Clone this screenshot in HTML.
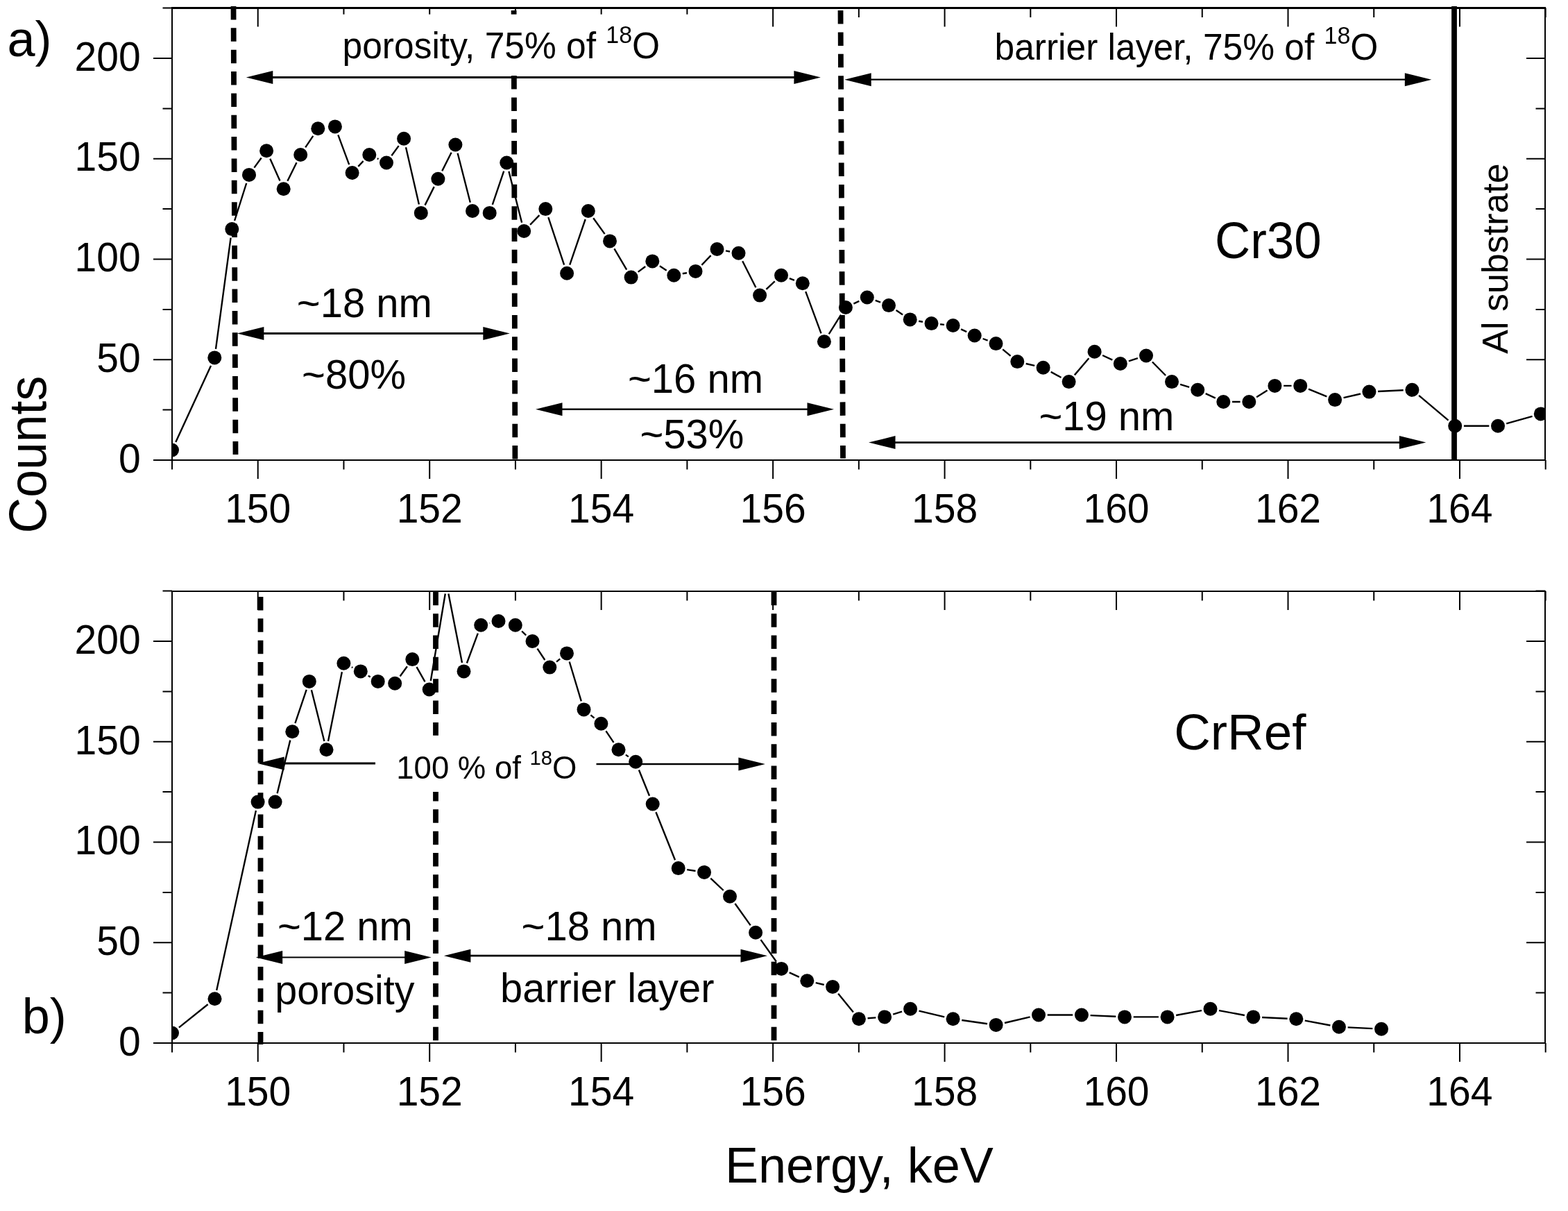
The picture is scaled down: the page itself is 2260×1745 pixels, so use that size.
<!DOCTYPE html><html><head><meta charset="utf-8"><style>html,body{margin:0;padding:0;background:#fff}svg{display:block}</style></head><body><svg width="2260" height="1745" viewBox="0 0 2260 1745">
<defs><clipPath id="ca"><rect x="248" y="11.5" width="1979" height="651.5"/></clipPath><clipPath id="cb"><rect x="248" y="852" width="1979" height="651"/></clipPath></defs>
<rect width="2260" height="1745" fill="#fff"/>
<g clip-path="url(#ca)">
<path d="M253.3 637.0L304.0 526.9M311.0 502.8L332.6 342.7M338.1 318.0L355.2 264.0M366.4 241.6L376.7 227.5M389.3 228.8L403.5 260.6M414.4 260.8L427.5 234.3M440.2 212.4L451.3 195.9M487.3 194.3L503.2 237.1M516.3 239.8L523.6 232.2M543.8 228.4L545.5 229.1M564.4 224.2L574.7 210.1M585.0 212.2L603.9 294.5M612.5 295.6L625.7 269.1M637.2 246.4L650.6 219.8M659.6 220.8L677.8 291.7M709.8 294.9L726.2 246.6M733.4 246.9L752.1 320.7M764.1 323.9L777.4 310.2M790.3 313.2L813.1 381.7M821.2 381.7L843.7 316.0M855.2 314.3L871.6 337.1M885.4 358.4L903.2 388.6M919.7 391.9L930.2 384.0M950.9 383.3L960.7 389.7M983.8 394.3L990.0 393.2M1011.4 381.8L1024.6 368.1M1046.0 361.4L1052.0 362.5M1070.2 376.2L1089.4 414.3M1104.4 416.9L1116.7 405.3M1137.9 401.1L1144.9 403.8M1161.2 420.1L1183.5 480.3M1194.7 481.4L1212.1 453.7M1230.4 437.6L1238.3 433.9M1261.7 432.9L1269.1 435.7M1291.6 447.1L1301.1 453.4M1324.2 462.7L1330.0 463.8M1355.1 467.3L1361.0 467.9M1385.1 474.4L1393.2 478.2M1416.6 488.0L1423.6 490.6M1445.2 503.3L1456.6 512.9M1478.7 524.0L1491.2 526.9M1514.7 535.9L1529.5 544.0M1548.8 540.4L1569.4 516.3M1589.1 512.0L1603.3 518.7M1626.9 520.3L1639.9 516.2M1660.9 521.5L1680.1 541.0M1701.1 553.9L1714.1 557.9M1737.7 567.1L1751.8 573.7M1776.0 579.0L1787.6 579.0M1811.1 572.3L1826.6 562.6M1850.1 555.9L1861.5 555.9M1886.0 560.7L1912.3 571.4M1936.5 573.2L1961.0 567.5M1986.1 564.0L2022.7 562.3M2045.1 569.9L2087.5 605.6M2109.9 613.8L2146.3 613.8M2171.2 610.3L2208.6 599.9" stroke="#000" stroke-width="2.4" fill="none"/>
<g fill="#000"><circle cx="248.0" cy="648.5" r="10.0"/><circle cx="309.3" cy="515.4" r="10.0"/><circle cx="334.3" cy="330.1" r="10.0"/><circle cx="359.0" cy="251.9" r="10.0"/><circle cx="384.1" cy="217.2" r="10.0"/><circle cx="408.7" cy="272.2" r="10.0"/><circle cx="433.2" cy="223.0" r="10.0"/><circle cx="458.3" cy="185.3" r="10.0"/><circle cx="482.9" cy="182.4" r="10.0"/><circle cx="507.6" cy="249.0" r="10.0"/><circle cx="532.3" cy="223.0" r="10.0"/><circle cx="557.0" cy="234.5" r="10.0"/><circle cx="582.1" cy="199.8" r="10.0"/><circle cx="606.8" cy="306.9" r="10.0"/><circle cx="631.4" cy="257.7" r="10.0"/><circle cx="656.4" cy="208.5" r="10.0"/><circle cx="681.0" cy="304.0" r="10.0"/><circle cx="705.7" cy="306.9" r="10.0"/><circle cx="730.3" cy="234.5" r="10.0"/><circle cx="755.2" cy="333.0" r="10.0"/><circle cx="786.3" cy="301.1" r="10.0"/><circle cx="817.1" cy="393.8" r="10.0"/><circle cx="847.8" cy="304.0" r="10.0"/><circle cx="879.0" cy="347.4" r="10.0"/><circle cx="909.6" cy="399.6" r="10.0"/><circle cx="940.3" cy="376.4" r="10.0"/><circle cx="971.3" cy="396.7" r="10.0"/><circle cx="1002.5" cy="390.9" r="10.0"/><circle cx="1033.5" cy="359.0" r="10.0"/><circle cx="1064.5" cy="364.8" r="10.0"/><circle cx="1095.1" cy="425.6" r="10.0"/><circle cx="1126.0" cy="396.7" r="10.0"/><circle cx="1156.8" cy="408.2" r="10.0"/><circle cx="1187.9" cy="492.2" r="10.0"/><circle cx="1218.9" cy="443.0" r="10.0"/><circle cx="1249.8" cy="428.5" r="10.0"/><circle cx="1281.0" cy="440.1" r="10.0"/><circle cx="1311.7" cy="460.4" r="10.0"/><circle cx="1342.5" cy="466.1" r="10.0"/><circle cx="1373.6" cy="469.0" r="10.0"/><circle cx="1404.7" cy="483.5" r="10.0"/><circle cx="1435.5" cy="495.1" r="10.0"/><circle cx="1466.3" cy="521.1" r="10.0"/><circle cx="1503.6" cy="529.8" r="10.0"/><circle cx="1540.6" cy="550.1" r="10.0"/><circle cx="1577.6" cy="506.7" r="10.0"/><circle cx="1614.8" cy="524.0" r="10.0"/><circle cx="1652.0" cy="512.5" r="10.0"/><circle cx="1689.0" cy="550.1" r="10.0"/><circle cx="1726.2" cy="561.7" r="10.0"/><circle cx="1763.3" cy="579.0" r="10.0"/><circle cx="1800.3" cy="579.0" r="10.0"/><circle cx="1837.4" cy="555.9" r="10.0"/><circle cx="1874.2" cy="555.9" r="10.0"/><circle cx="1924.1" cy="576.1" r="10.0"/><circle cx="1973.4" cy="564.6" r="10.0"/><circle cx="2035.4" cy="561.7" r="10.0"/><circle cx="2097.2" cy="613.8" r="10.0"/><circle cx="2159.0" cy="613.8" r="10.0"/><circle cx="2220.8" cy="596.4" r="10.0"/></g>
</g>
<line x1="336.5" y1="9" x2="339.5" y2="655" stroke="#000" stroke-width="7.8" stroke-dasharray="19.5 11.85" stroke-dashoffset="0"/>
<line x1="740.6" y1="15" x2="742.4" y2="661.4" stroke="#000" stroke-width="7.8" stroke-dasharray="19.5 11.85" stroke-dashoffset="0"/>
<line x1="1211.5" y1="15.1" x2="1215" y2="660.6" stroke="#000" stroke-width="7.8" stroke-dasharray="19.5 11.85" stroke-dashoffset="0"/>
<line x1="2096" y1="9" x2="2096" y2="663" stroke="#000" stroke-width="7.8"/>
<g stroke="#000" fill="none"><line x1="248.0" y1="11.5" x2="248.0" y2="664.0" stroke-width="2"/><line x1="2227.0" y1="11.5" x2="2227.0" y2="664.0" stroke-width="2"/><line x1="247.0" y1="11.5" x2="2228.0" y2="11.5" stroke-width="3"/><line x1="247.0" y1="663.0" x2="2228.0" y2="663.0" stroke-width="2"/><path d="M221.0 663.00H248.0M2200.0 663.00H2227.0M234.5 590.62H248.0M2213.5 590.62H2227.0M221.0 518.25H248.0M2200.0 518.25H2227.0M234.5 445.88H248.0M2213.5 445.88H2227.0M221.0 373.50H248.0M2200.0 373.50H2227.0M234.5 301.12H248.0M2213.5 301.12H2227.0M221.0 228.75H248.0M2200.0 228.75H2227.0M234.5 156.38H248.0M2213.5 156.38H2227.0M221.0 84.00H248.0M2200.0 84.00H2227.0M234.5 11.62H248.0M2213.5 11.62H2227.0M248.00 663.0V676.5M248.00 11.5V25.0M371.73 663.0V690.0M371.73 11.5V38.5M495.46 663.0V676.5M495.46 11.5V25.0M619.19 663.0V690.0M619.19 11.5V38.5M742.92 663.0V676.5M742.92 11.5V25.0M866.65 663.0V690.0M866.65 11.5V38.5M990.38 663.0V676.5M990.38 11.5V25.0M1114.11 663.0V690.0M1114.11 11.5V38.5M1237.84 663.0V676.5M1237.84 11.5V25.0M1361.57 663.0V690.0M1361.57 11.5V38.5M1485.30 663.0V676.5M1485.30 11.5V25.0M1609.03 663.0V690.0M1609.03 11.5V38.5M1732.76 663.0V676.5M1732.76 11.5V25.0M1856.49 663.0V690.0M1856.49 11.5V38.5M1980.22 663.0V676.5M1980.22 11.5V25.0M2103.95 663.0V690.0M2103.95 11.5V38.5M2227.68 663.0V676.5M2227.68 11.5V25.0" stroke-width="2"/></g>
<g><text transform="translate(202.6 680.7) scale(1.0 1.03)" font-family="Liberation Sans, Arial, sans-serif" font-size="57" text-anchor="end">0</text><text transform="translate(202.6 536.0) scale(1.0 1.03)" font-family="Liberation Sans, Arial, sans-serif" font-size="57" text-anchor="end">50</text><text transform="translate(202.6 391.2) scale(1.0 1.03)" font-family="Liberation Sans, Arial, sans-serif" font-size="57" text-anchor="end">100</text><text transform="translate(202.6 246.4) scale(1.0 1.03)" font-family="Liberation Sans, Arial, sans-serif" font-size="57" text-anchor="end">150</text><text transform="translate(202.6 101.7) scale(1.0 1.03)" font-family="Liberation Sans, Arial, sans-serif" font-size="57" text-anchor="end">200</text><text transform="translate(371.7 753.4) scale(1.0 1.03)" font-family="Liberation Sans, Arial, sans-serif" font-size="57" text-anchor="middle">150</text><text transform="translate(619.2 753.4) scale(1.0 1.03)" font-family="Liberation Sans, Arial, sans-serif" font-size="57" text-anchor="middle">152</text><text transform="translate(866.6 753.4) scale(1.0 1.03)" font-family="Liberation Sans, Arial, sans-serif" font-size="57" text-anchor="middle">154</text><text transform="translate(1114.1 753.4) scale(1.0 1.03)" font-family="Liberation Sans, Arial, sans-serif" font-size="57" text-anchor="middle">156</text><text transform="translate(1361.6 753.4) scale(1.0 1.03)" font-family="Liberation Sans, Arial, sans-serif" font-size="57" text-anchor="middle">158</text><text transform="translate(1609.0 753.4) scale(1.0 1.03)" font-family="Liberation Sans, Arial, sans-serif" font-size="57" text-anchor="middle">160</text><text transform="translate(1856.5 753.4) scale(1.0 1.03)" font-family="Liberation Sans, Arial, sans-serif" font-size="57" text-anchor="middle">162</text><text transform="translate(2103.9 753.4) scale(1.0 1.03)" font-family="Liberation Sans, Arial, sans-serif" font-size="57" text-anchor="middle">164</text></g>
<g fill="#000"><line x1="392.3" y1="111.5" x2="1145.4" y2="111.5" stroke="#000" stroke-width="3"/><path d="M354.8 111.5L393.3 102.0V121.0Z"/><path d="M1182.9 111.5L1144.4 102.0V121.0Z"/></g>
<g fill="#000"><line x1="1254.7" y1="114.7" x2="2025.8000000000002" y2="114.7" stroke="#000" stroke-width="2.2"/><path d="M1217.2 114.7L1255.7 105.2V124.2Z"/><path d="M2063.3 114.7L2024.8000000000002 105.2V124.2Z"/></g>
<g fill="#000"><line x1="379.4" y1="480.4" x2="697.3" y2="480.4" stroke="#000" stroke-width="3"/><path d="M341.9 480.4L380.4 470.9V489.9Z"/><path d="M734.8 480.4L696.3 470.9V489.9Z"/></g>
<g fill="#000"><line x1="809.5" y1="589.7" x2="1164.5" y2="589.7" stroke="#000" stroke-width="2.6"/><path d="M772 589.7L810.5 580.2V599.2Z"/><path d="M1202 589.7L1163.5 580.2V599.2Z"/></g>
<g fill="#000"><line x1="1289.5" y1="637.6" x2="2017.8000000000002" y2="637.6" stroke="#000" stroke-width="2.8"/><path d="M1252 637.6L1290.5 628.1V647.1Z"/><path d="M2055.3 637.6L2016.8000000000002 628.1V647.1Z"/></g>
<rect x="488" y="20.7" width="512" height="88" fill="#fff"/>
<text transform="translate(493.6 84) scale(1.0 1.03)" font-family="Liberation Sans, Arial, sans-serif" font-size="51.5">porosity, 75% of <tspan font-size="34" dy="-21.8">18</tspan><tspan dy="21.8">O</tspan></text>
<text transform="translate(1433.5 85.9) scale(1.0 1.03)" font-family="Liberation Sans, Arial, sans-serif" font-size="51.5">barrier layer, 75% of <tspan font-size="34" dy="-21.8">18</tspan><tspan dy="21.8">O</tspan></text>
<text transform="translate(1751.1 371.9) scale(0.95 1.0)" font-family="Liberation Sans, Arial, sans-serif" font-size="74.6">Cr30</text>
<text transform="translate(2173.3 509.8) rotate(-90)" font-family="Liberation Sans, Arial, sans-serif" font-size="52">Al substrate</text>
<text transform="translate(427.8 456.9) scale(1.0 1.03)" font-family="Liberation Sans, Arial, sans-serif" font-size="58">~18 nm</text>
<text transform="translate(435.1 559.6) scale(1.0 1.03)" font-family="Liberation Sans, Arial, sans-serif" font-size="58">~80%</text>
<text transform="translate(905 566.4) scale(1.0 1.03)" font-family="Liberation Sans, Arial, sans-serif" font-size="58">~16 nm</text>
<text transform="translate(922.4 645.9) scale(1.0 1.03)" font-family="Liberation Sans, Arial, sans-serif" font-size="58">~53%</text>
<text transform="translate(1497.4 620) scale(1.0 1.03)" font-family="Liberation Sans, Arial, sans-serif" font-size="58">~19 nm</text>
<text transform="translate(10.5 80.5)" font-family="Liberation Sans, Arial, sans-serif" font-size="72">a)</text>
<g clip-path="url(#cb)">
<path d="M257.9 1480.6L299.6 1447.2M312.2 1426.9L368.9 1168.0M399.6 1143.3L418.3 1066.6M425.4 1042.2L441.7 993.9M448.9 994.2L467.4 1068.0M473.0 1067.9L492.9 968.3M506.9 961.3L508.3 962.0M530.8 973.8L533.7 975.5M576.6 974.5L586.9 960.3M600.5 961.1L612.5 982.4M620.8 981.0L641.8 855.5M646.4 855.4L666.0 955.0M672.9 955.5L688.8 912.7M705.6 898.0L706.1 897.9M752.1 909.5L758.2 915.3M774.5 934.6L785.3 951.0M802.1 953.6L807.2 949.4M820.7 953.5L837.8 1010.3M851.4 1030.4L856.5 1034.7M873.4 1053.3L884.5 1069.8M901.9 1087.6L905.8 1090.4M920.9 1109.5L936.0 1146.7M945.4 1170.3L973.0 1239.3M990.2 1253.1L1002.5 1255.0M1024.3 1265.6L1042.7 1283.0M1059.4 1302.0L1081.7 1333.4M1096.5 1354.1L1118.8 1385.5M1137.7 1401.3L1151.8 1407.9M1175.7 1416.2L1187.7 1419.0M1208.1 1431.8L1229.9 1458.4M1250.6 1467.3L1262.4 1466.4M1287.2 1461.6L1300.0 1457.6M1324.5 1456.7L1361.2 1465.4M1386.2 1470.0L1423.0 1475.2M1448.0 1474.0L1484.6 1465.4M1509.7 1462.5L1546.2 1462.5M1571.6 1463.1L1608.3 1464.8M1633.7 1465.4L1669.9 1465.4M1695.1 1463.0L1732.0 1456.1M1757.0 1456.1L1793.9 1463.0M1819.1 1466.0L1855.6 1467.7M1880.8 1470.6L1917.4 1477.5M1942.6 1480.4L1978.3 1482.1" stroke="#000" stroke-width="2.4" fill="none"/>
<g fill="#000"><circle cx="248.0" cy="1488.5" r="10.0"/><circle cx="309.5" cy="1439.3" r="10.0"/><circle cx="371.6" cy="1155.6" r="10.0"/><circle cx="396.6" cy="1155.6" r="10.0"/><circle cx="421.3" cy="1054.3" r="10.0"/><circle cx="445.8" cy="981.9" r="10.0"/><circle cx="470.5" cy="1080.3" r="10.0"/><circle cx="495.4" cy="955.8" r="10.0"/><circle cx="519.8" cy="967.4" r="10.0"/><circle cx="544.7" cy="981.9" r="10.0"/><circle cx="569.2" cy="984.8" r="10.0"/><circle cx="594.3" cy="950.1" r="10.0"/><circle cx="618.7" cy="993.5" r="10.0"/><circle cx="643.9" cy="842.9" r="10.0"/><circle cx="668.5" cy="967.4" r="10.0"/><circle cx="693.2" cy="900.8" r="10.0"/><circle cx="718.5" cy="895.0" r="10.0"/><circle cx="742.8" cy="900.8" r="10.0"/><circle cx="767.5" cy="924.0" r="10.0"/><circle cx="792.3" cy="961.6" r="10.0"/><circle cx="817.0" cy="941.4" r="10.0"/><circle cx="841.5" cy="1022.4" r="10.0"/><circle cx="866.4" cy="1042.7" r="10.0"/><circle cx="891.5" cy="1080.3" r="10.0"/><circle cx="916.2" cy="1097.7" r="10.0"/><circle cx="940.7" cy="1158.5" r="10.0"/><circle cx="977.7" cy="1251.1" r="10.0"/><circle cx="1015.0" cy="1256.9" r="10.0"/><circle cx="1052.0" cy="1291.7" r="10.0"/><circle cx="1089.1" cy="1343.8" r="10.0"/><circle cx="1126.2" cy="1395.9" r="10.0"/><circle cx="1163.3" cy="1413.3" r="10.0"/><circle cx="1200.1" cy="1421.9" r="10.0"/><circle cx="1237.9" cy="1468.3" r="10.0"/><circle cx="1275.1" cy="1465.4" r="10.0"/><circle cx="1312.1" cy="1453.8" r="10.0"/><circle cx="1373.6" cy="1468.3" r="10.0"/><circle cx="1435.6" cy="1476.9" r="10.0"/><circle cx="1497.0" cy="1462.5" r="10.0"/><circle cx="1558.9" cy="1462.5" r="10.0"/><circle cx="1621.0" cy="1465.4" r="10.0"/><circle cx="1682.6" cy="1465.4" r="10.0"/><circle cx="1744.5" cy="1453.8" r="10.0"/><circle cx="1806.4" cy="1465.4" r="10.0"/><circle cx="1868.3" cy="1468.3" r="10.0"/><circle cx="1929.9" cy="1479.8" r="10.0"/><circle cx="1991.0" cy="1482.7" r="10.0"/></g>
</g>
<line x1="375.5" y1="860" x2="375.5" y2="1505" stroke="#000" stroke-width="7.8" stroke-dasharray="19.5 11.85" stroke-dashoffset="0"/>
<line x1="628" y1="852.8" x2="628" y2="1499.5" stroke="#000" stroke-width="7.8" stroke-dasharray="19.5 11.85" stroke-dashoffset="0"/>
<line x1="1115.5" y1="852.8" x2="1115.5" y2="1500" stroke="#000" stroke-width="7.8" stroke-dasharray="19.5 11.85" stroke-dashoffset="0"/>
<g stroke="#000" fill="none"><line x1="248.0" y1="852" x2="248.0" y2="1504.0" stroke-width="2"/><line x1="2227.0" y1="852" x2="2227.0" y2="1504.0" stroke-width="2"/><line x1="247.0" y1="852" x2="2228.0" y2="852" stroke-width="2"/><line x1="247.0" y1="1503.0" x2="2228.0" y2="1503.0" stroke-width="2"/><path d="M221.0 1503.00H248.0M2200.0 1503.00H2227.0M234.5 1430.62H248.0M2213.5 1430.62H2227.0M221.0 1358.25H248.0M2200.0 1358.25H2227.0M234.5 1285.88H248.0M2213.5 1285.88H2227.0M221.0 1213.50H248.0M2200.0 1213.50H2227.0M234.5 1141.12H248.0M2213.5 1141.12H2227.0M221.0 1068.75H248.0M2200.0 1068.75H2227.0M234.5 996.38H248.0M2213.5 996.38H2227.0M221.0 924.00H248.0M2200.0 924.00H2227.0M234.5 851.62H248.0M2213.5 851.62H2227.0M248.00 1503.0V1516.5M248.00 852V865.5M371.73 1503.0V1530.0M371.73 852V879M495.46 1503.0V1516.5M495.46 852V865.5M619.19 1503.0V1530.0M619.19 852V879M742.92 1503.0V1516.5M742.92 852V865.5M866.65 1503.0V1530.0M866.65 852V879M990.38 1503.0V1516.5M990.38 852V865.5M1114.11 1503.0V1530.0M1114.11 852V879M1237.84 1503.0V1516.5M1237.84 852V865.5M1361.57 1503.0V1530.0M1361.57 852V879M1485.30 1503.0V1516.5M1485.30 852V865.5M1609.03 1503.0V1530.0M1609.03 852V879M1732.76 1503.0V1516.5M1732.76 852V865.5M1856.49 1503.0V1530.0M1856.49 852V879M1980.22 1503.0V1516.5M1980.22 852V865.5M2103.95 1503.0V1530.0M2103.95 852V879M2227.68 1503.0V1516.5M2227.68 852V865.5" stroke-width="2"/></g>
<g><text transform="translate(202.6 1520.7) scale(1.0 1.03)" font-family="Liberation Sans, Arial, sans-serif" font-size="57" text-anchor="end">0</text><text transform="translate(202.6 1376.0) scale(1.0 1.03)" font-family="Liberation Sans, Arial, sans-serif" font-size="57" text-anchor="end">50</text><text transform="translate(202.6 1231.2) scale(1.0 1.03)" font-family="Liberation Sans, Arial, sans-serif" font-size="57" text-anchor="end">100</text><text transform="translate(202.6 1086.5) scale(1.0 1.03)" font-family="Liberation Sans, Arial, sans-serif" font-size="57" text-anchor="end">150</text><text transform="translate(202.6 941.7) scale(1.0 1.03)" font-family="Liberation Sans, Arial, sans-serif" font-size="57" text-anchor="end">200</text><text transform="translate(371.7 1593.4) scale(1.0 1.03)" font-family="Liberation Sans, Arial, sans-serif" font-size="57" text-anchor="middle">150</text><text transform="translate(619.2 1593.4) scale(1.0 1.03)" font-family="Liberation Sans, Arial, sans-serif" font-size="57" text-anchor="middle">152</text><text transform="translate(866.6 1593.4) scale(1.0 1.03)" font-family="Liberation Sans, Arial, sans-serif" font-size="57" text-anchor="middle">154</text><text transform="translate(1114.1 1593.4) scale(1.0 1.03)" font-family="Liberation Sans, Arial, sans-serif" font-size="57" text-anchor="middle">156</text><text transform="translate(1361.6 1593.4) scale(1.0 1.03)" font-family="Liberation Sans, Arial, sans-serif" font-size="57" text-anchor="middle">158</text><text transform="translate(1609.0 1593.4) scale(1.0 1.03)" font-family="Liberation Sans, Arial, sans-serif" font-size="57" text-anchor="middle">160</text><text transform="translate(1856.5 1593.4) scale(1.0 1.03)" font-family="Liberation Sans, Arial, sans-serif" font-size="57" text-anchor="middle">162</text><text transform="translate(2103.9 1593.4) scale(1.0 1.03)" font-family="Liberation Sans, Arial, sans-serif" font-size="57" text-anchor="middle">164</text></g>
<g fill="#000"><line x1="408" y1="1100" x2="541" y2="1100" stroke="#000" stroke-width="3"/><path d="M371.2 1100L409.7 1090.5V1109.5Z"/><line x1="859.3" y1="1101" x2="1065" y2="1101" stroke="#000" stroke-width="2.6"/><path d="M1102.9 1101L1064.4 1091.5V1110.5Z"/></g>
<rect x="541" y="1059.8" width="318.3" height="81.2" fill="#fff"/>
<text transform="translate(571.3 1121.7) scale(1.0 1.03)" font-family="Liberation Sans, Arial, sans-serif" font-size="45.5">100 % of <tspan font-size="29.3" dy="-18.8">18</tspan><tspan dy="18.8">O</tspan></text>
<g fill="#000"><line x1="406.2" y1="1379.5" x2="584.2" y2="1379.5" stroke="#000" stroke-width="2.2"/><path d="M368.7 1379.5L407.2 1370.0V1389.0Z"/><path d="M621.7 1379.5L583.2 1370.0V1389.0Z"/></g>
<g fill="#000"><line x1="677.4" y1="1377.2" x2="1068.5" y2="1377.2" stroke="#000" stroke-width="2.8"/><path d="M639.9 1377.2L678.4 1367.7V1386.7Z"/><path d="M1106 1377.2L1067.5 1367.7V1386.7Z"/></g>
<text transform="translate(1692.3 1080)" font-family="Liberation Sans, Arial, sans-serif" font-size="72.8">CrRef</text>
<text transform="translate(399.9 1355.3) scale(1.0 1.03)" font-family="Liberation Sans, Arial, sans-serif" font-size="58">~12 nm</text>
<text transform="translate(751.6 1354.6) scale(1.0 1.03)" font-family="Liberation Sans, Arial, sans-serif" font-size="58">~18 nm</text>
<text transform="translate(396.2 1447) scale(1.0 1.03)" font-family="Liberation Sans, Arial, sans-serif" font-size="57.5">porosity</text>
<text transform="translate(721.1 1443.6) scale(1.0 1.03)" font-family="Liberation Sans, Arial, sans-serif" font-size="57.8">barrier layer</text>
<text transform="translate(31.8 1488.6)" font-family="Liberation Sans, Arial, sans-serif" font-size="72">b)</text>
<text transform="translate(1044.9 1703.6)" font-family="Liberation Sans, Arial, sans-serif" font-size="72">Energy, keV</text>
<text transform="translate(65.6 768.4) rotate(-90) scale(1.0 1.065)" font-family="Liberation Sans, Arial, sans-serif" font-size="71.5">Counts</text>
</svg></body></html>
